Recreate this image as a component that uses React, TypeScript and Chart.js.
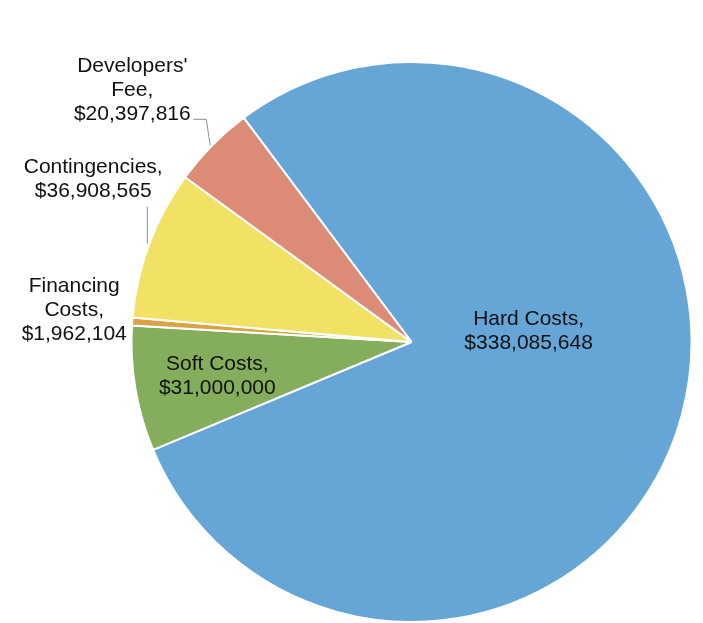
import React, { useEffect, useRef } from "react";
import { Chart, registerables } from "chart.js";

Chart.register(...registerables);

const categories = ["Hard Costs", "Soft Costs", "Financing Costs", "Contingencies", "Developers' Fee"];
const values = [338085648, 31000000, 1962104, 36908565, 20397816];
const colors = ["#65a6d7", "#84ae5b", "#d9a347", "#f1e265", "#dc8b77"];

// label placement: angle (deg clockwise from top), radius as fraction of outer radius, wrap width
const placement = [
  { angle: 84.6, r: 0.42, wrap: 180, leader: null as null | number[][] },
  { angle: -99.9, r: 0.704, wrap: 180, leader: null },
  { angle: -84.6, r: 1.21, wrap: 115, leader: null },
  { angle: -62.9, r: 1.277, wrap: 180, leader: [[-2, 0], [-2, -37]] },
  { angle: -47.9, r: 1.344, wrap: 130, leader: [[-2, 0], [-6, -26], [-19, -26]] },
];

const FONT = "21px 'Liberation Sans', Arial, sans-serif";
const LINE_H = 24;

function money(v: number) {
  return "$" + v.toLocaleString("en-US");
}

function wrap(ctx: CanvasRenderingContext2D, text: string, maxW: number) {
  const words = text.split(" ");
  const out: string[] = [];
  let cur = "";
  for (const w of words) {
    const t = cur ? cur + " " + w : w;
    if (cur && ctx.measureText(t).width > maxW) {
      out.push(cur);
      cur = w;
    } else cur = t;
  }
  if (cur) out.push(cur);
  return out;
}

const labelPlugin = {
  id: "sliceLabels",
  afterDatasetsDraw(chart: any) {
    const ctx: CanvasRenderingContext2D = chart.ctx;
    const meta = chart.getDatasetMeta(0);
    ctx.save();
    ctx.font = FONT;
    ctx.textAlign = "center";
    ctx.textBaseline = "middle";
    meta.data.forEach((arc: any, i: number) => {
      const { x, y, startAngle, endAngle, outerRadius } = arc.getProps(
        ["x", "y", "startAngle", "endAngle", "outerRadius"],
        true
      );
      const p = placement[i];
      const mid = (startAngle + endAngle) / 2;
      const ex = x + outerRadius * Math.cos(mid);
      const ey = y + outerRadius * Math.sin(mid);
      if (p.leader) {
        ctx.strokeStyle = "#8c8c8c";
        ctx.lineWidth = 1;
        ctx.beginPath();
        p.leader.forEach((pt, k) => {
          const px = ex + pt[0];
          const py = ey + pt[1];
          if (k === 0) ctx.moveTo(px, py);
          else ctx.lineTo(px, py);
        });
        ctx.stroke();
      }
      const a = (p.angle * Math.PI) / 180;
      const cx = x + p.r * outerRadius * Math.sin(a);
      const cy = y - p.r * outerRadius * Math.cos(a);
      const lines = [...wrap(ctx, categories[i] + ",", p.wrap), money(values[i])];
      const top = cy - ((lines.length - 1) * LINE_H) / 2;
      ctx.fillStyle = "#111111";
      lines.forEach((ln, k) => ctx.fillText(ln, cx, top + k * LINE_H));
    });
    ctx.restore();
  },
};

export default function App() {
  const ref = useRef<HTMLCanvasElement>(null);
  useEffect(() => {
    if (!ref.current) return;
    const chart = new Chart(ref.current, {
      type: "pie",
      data: {
        labels: categories,
        datasets: [
          {
            data: values,
            backgroundColor: colors,
            borderColor: "#ffffff",
            borderWidth: 2,
          },
        ],
      },
      options: {
        responsive: false,
        animation: false,
        rotation: -36.8,
        layout: { padding: { left: 130, right: 10, top: 61, bottom: 0 } },
        plugins: {
          legend: { display: false },
          tooltip: { enabled: false },
        },
      },
      plugins: [labelPlugin],
    });
    return () => chart.destroy();
  }, []);
  return (
    <div style={{ position: "absolute", left: 0, top: 0, width: 703, height: 623, background: "#fff" }}>
      <canvas ref={ref} width={703} height={623} style={{ display: "block" }} />
    </div>
  );
}
